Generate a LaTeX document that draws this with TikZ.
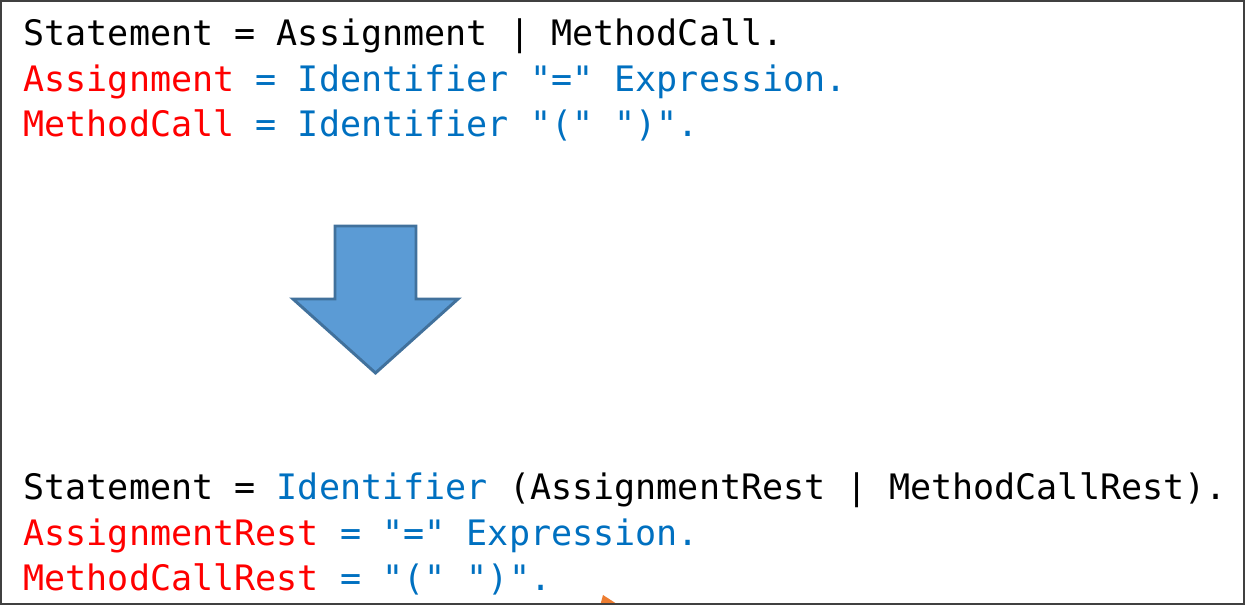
\documentclass[tikz,border=0pt]{standalone}
\usepackage{fontspec}
\setmonofont{DejaVu Sans Mono}
\definecolor{kwred}{RGB}{255,0,0}
\definecolor{kwblue}{RGB}{0,112,192}
\definecolor{arrowfill}{RGB}{91,155,213}
\definecolor{arrowline}{RGB}{65,113,156}
\definecolor{frameline}{RGB}{64,64,64}
\definecolor{tipfill}{RGB}{237,125,49}
\tikzset{every picture/.style={line width=0.75pt}}
\tikzset{grammar/.style={anchor=base west,inner sep=0pt,font=\ttfamily\fontsize{26.3}{30}\selectfont}}

\begin{document}
\begin{tikzpicture}[x=0.75pt,y=0.75pt,yscale=-1,xscale=1]
		\useasboundingbox (0,0) rectangle (1245,605);
		
		%Shape: Rectangle [id:frame] 
		\draw [color=frameline,line width=1.5pt] (1,1) rectangle (1243.5,603.5) ;
		
		%Shape: Triangle [id:tip] 
		\begin{scope}
		\clip (2,2) rectangle (1242.5,602.5) ;
		\fill [tipfill] (600,606) -- (603,595) -- (620,606) -- cycle ;
		\end{scope}
		
		%Shape: Down Arrow [id:down] 
		\draw [color=arrowline,fill=arrowfill,line width=2.2pt,line join=miter] (335,226) -- (416,226) -- (416,299) -- (458,299) -- (375.5,373) -- (293,299) -- (335,299) -- cycle ;
		
		
		% Text Node
		\node [grammar] (oldstmt) at (23,46) {Statement = Assignment | MethodCall.};
		% Text Node
		\node [grammar] (oldassign) at (23,91.5) {\textcolor{kwred}{Assignment} \textcolor{kwblue}{= Identifier "=" Expression.}};
		% Text Node
		\node [grammar] (oldcall) at (23,137) {\textcolor{kwred}{MethodCall} \textcolor{kwblue}{= Identifier "(" ")".}};
		% Text Node
		\node [grammar] (newstmt) at (23,499.5) {Statement = \textcolor{kwblue}{Identifier} (AssignmentRest | MethodCallRest).};
		% Text Node
		\node [grammar] (newassign) at (23,545) {\textcolor{kwred}{AssignmentRest} \textcolor{kwblue}{= "=" Expression.}};
		% Text Node
		\node [grammar] (newcall) at (23,590.5) {\textcolor{kwred}{MethodCallRest} \textcolor{kwblue}{= "(" ")".}};
		
		
		\end{tikzpicture}
\end{document}
